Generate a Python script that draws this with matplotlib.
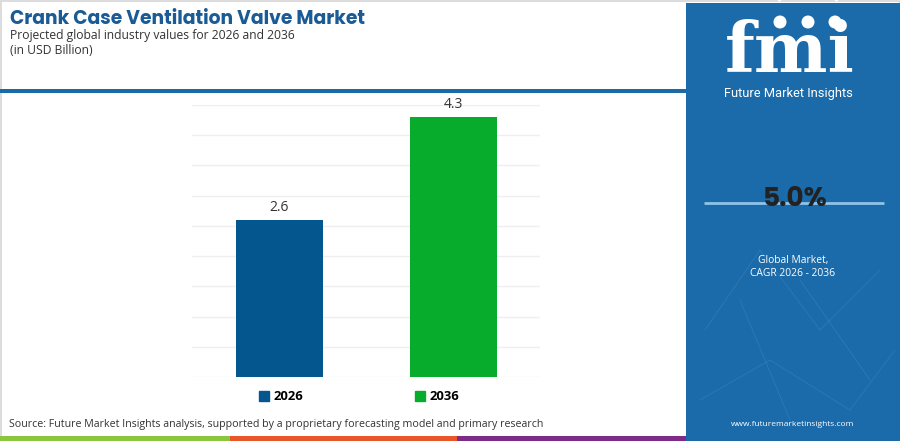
import matplotlib
matplotlib.use("Agg")
import matplotlib.pyplot as plt
from matplotlib.patches import Rectangle, Circle, Arc

# ---- data ----
years = ["2026", "2036"]
values = [2.6, 4.3]
bar_colors = ["#04568f", "#08ac2c"]
title = "Crank Case Ventilation Valve Market"
subtitle = "Projected global industry values for 2026 and 2036"
unit = "(in USD Billion)"
cagr = "5.0%"
cagr_label = ["Global Market,", "CAGR 2026 - 2036"]
source = "Source: Future Market Insights analysis, supported by a proprietary forecasting model and primary research"
website = "www.futuremarketinsights.com"

plt.rcParams['font.family'] = ['Open Sans', 'DejaVu Sans']

W, H = 900, 441
fig = plt.figure(figsize=(9, 4.41), dpi=100)
fig.patch.set_facecolor("white")

def fx(x):
    return x / W

def fy(y):
    return 1 - y / H

# background overlay axes
bg = fig.add_axes([0, 0, 1, 1])
bg.set_xlim(0, W)
bg.set_ylim(H, 0)
bg.axis("off")

# light border
bg.add_patch(Rectangle((0.5, 0.5), W - 1, H - 1, fill=False, edgecolor="#d5d5d5", lw=1.2))
# header blue rule
bg.add_patch(Rectangle((0, 89), 686, 4, color="#1b6aa8", lw=0))
# bottom stripe
bg.add_patch(Rectangle((0, 436), 230, 5, color="#8cc63f", lw=0))
bg.add_patch(Rectangle((230, 436), 227, 5, color="#e8562a", lw=0))
bg.add_patch(Rectangle((457, 436), 229, 5, color="#7d2a88", lw=0))
# right panel
bg.add_patch(Rectangle((686, 3), W - 686, H - 3, color="#1b6aaa", lw=0))

# faint decorative network lines
net = [((705, 330), (760, 250)), ((760, 250), (820, 330)), ((820, 330), (880, 270)),
       ((700, 400), (770, 360)), ((770, 360), (850, 410)), ((850, 410), (895, 350)),
       ((740, 300), (790, 420)), ((800, 280), (870, 380))]
for (a, b) in net:
    bg.plot([a[0], b[0]], [a[1], b[1]], color="#5b9bd0", lw=0.6, alpha=0.3)

# header texts
bg.text(10, 19, title, fontsize=13.5, fontweight="bold", color="#1a5b96",
        ha="left", va="center", family=["Poppins", "Open Sans", "DejaVu Sans"])
bg.text(10, 35, subtitle, fontsize=8.7, color="#333333", ha="left", va="center")
bg.text(10, 51, unit, fontsize=8.7, color="#333333", ha="left", va="center")

# logo
bg.text(790, 53, "fmi", fontsize=50, fontweight="bold", color="white",
        ha="center", va="center", family=["DejaVu Serif"])
for yy in range(26, 82, 4):
    bg.add_patch(Rectangle((720, yy), 140, 1.2, color="#1b6aaa", lw=0))
for cx in (780, 808, 835):
    bg.add_patch(Circle((cx, 22), 6.5, color="white", lw=0))
bg.add_patch(Arc((808, 12), 70, 40, theta1=200, theta2=340, color="white", lw=1.5))
bg.text(788, 93, "Future Market Insights", fontsize=9.3, color="white",
        ha="center", va="center", family=["Roboto", "DejaVu Sans"])

# CAGR block
bg.plot([704, 884], [203, 203], color="#8fc3ea", lw=2, solid_capstyle="butt")
bg.text(795, 199, cagr, fontsize=19, fontweight="bold", color="#222222",
        ha="center", va="center", family=["Poppins", "Open Sans", "DejaVu Sans"])
bg.text(793, 260, cagr_label[0], fontsize=7.4, color="white", ha="center", va="center")
bg.text(793, 273, cagr_label[1], fontsize=7.4, color="white", ha="center", va="center")
bg.text(793, 424, website, fontsize=6, color="white", ha="center", va="center")

# source
bg.text(9, 425, source, fontsize=7.7, color="#333333", ha="left", va="center")

# ---- chart axes ----
ax = fig.add_axes([fx(192), fy(377), fx(540) - fx(192), fy(105) - fy(377)])
x = list(range(len(years)))
bars = ax.bar(x, values, width=0.5, color=bar_colors, zorder=3)
ax.set_xlim(-0.5, 1.5)
ax.set_ylim(0, 4.5)
ax.set_yticks([i * 0.5 for i in range(10)])
ax.grid(axis="y", color="#efefef", lw=1, zorder=0)
ax.tick_params(left=False, bottom=False, labelleft=False, labelbottom=False)
for s in ax.spines.values():
    s.set_visible(False)
ax.set_facecolor("none")
for xi, v in zip(x, values):
    ax.annotate(f"{v}", (xi, v), xytext=(0, 9), textcoords="offset points",
                ha="center", va="center", fontsize=10, color="#333333")

# legend
handles = [Rectangle((0, 0), 1, 1, color=c) for c in bar_colors]
leg = fig.legend(handles, years, loc="center", bbox_to_anchor=(fx(359), fy(397)),
                 ncol=2, frameon=False, handlelength=0.75, handleheight=0.75,
                 handletextpad=0.35, columnspacing=8.6,
                 prop={"weight": "bold", "size": 9.4})

fig.savefig("out.png", dpi=100, facecolor="white")
